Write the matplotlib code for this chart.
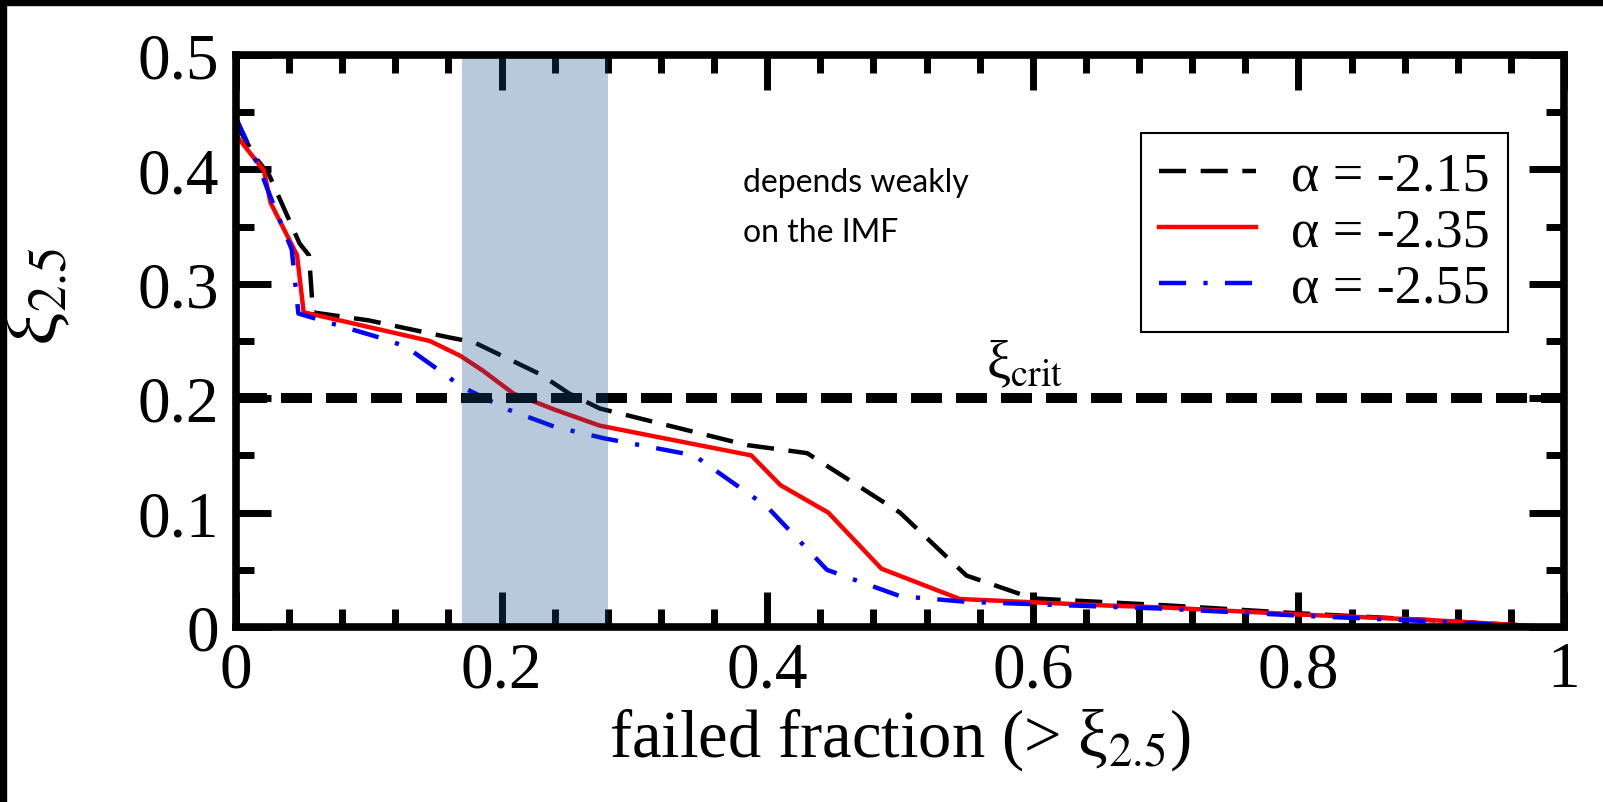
import matplotlib
matplotlib.use('Agg')
import matplotlib.pyplot as plt
from matplotlib.patches import Rectangle
from matplotlib.ticker import MultipleLocator, FixedLocator, FixedFormatter

plt.rcParams['font.family'] = ['Liberation Serif', 'DejaVu Serif']
plt.rcParams['mathtext.fontset'] = 'stix'
plt.rcParams['lines.scale_dashes'] = False

# failed fraction vs xi_2.5 for three IMF slopes
x_215 = [0.0, 0.015, 0.025, 0.048, 0.055, 0.058, 0.10, 0.161, 0.179, 0.229, 0.251,
         0.274, 0.385, 0.43, 0.50, 0.55, 0.60, 0.70, 0.80, 0.90, 0.99]
y_215 = [0.44, 0.41, 0.395, 0.335, 0.325, 0.275, 0.268, 0.253, 0.249, 0.221, 0.204,
         0.191, 0.159, 0.152, 0.100, 0.045, 0.025, 0.019, 0.012, 0.006, 0.0]

x_235 = [0.0, 0.021, 0.026, 0.046, 0.051, 0.063, 0.146, 0.169, 0.186, 0.209, 0.24,
         0.274, 0.388, 0.41, 0.446, 0.486, 0.545, 0.651, 0.70, 0.80, 0.90, 0.99]
y_235 = [0.43, 0.399, 0.371, 0.325, 0.275, 0.272, 0.250, 0.237, 0.224, 0.204, 0.19,
         0.176, 0.150, 0.124, 0.100, 0.051, 0.0245, 0.019, 0.017, 0.011, 0.006, 0.0]

x_255 = [0.0, 0.018, 0.028, 0.042, 0.047, 0.111, 0.128, 0.151, 0.170, 0.205, 0.24,
         0.277, 0.345, 0.40, 0.445, 0.50, 0.55, 0.70, 0.80, 0.90, 0.99]
y_255 = [0.445, 0.40, 0.37, 0.33, 0.274, 0.252, 0.245, 0.226, 0.210, 0.19, 0.175,
         0.165, 0.150, 0.105, 0.050, 0.027, 0.022, 0.016, 0.010, 0.005, 0.0]

xi_crit = 0.2
band = (0.17, 0.28)

x_ticks = [0, 0.2, 0.4, 0.6, 0.8, 1.0]
x_labels = ['0', '0.2', '0.4', '0.6', '0.8', '1']
y_ticks = [0, 0.1, 0.2, 0.3, 0.4, 0.5]
y_labels = ['0', '0.1', '0.2', '0.3', '0.4', '0.5']

fig = plt.figure(figsize=(16.03, 8.03), dpi=100)
ax = fig.add_axes([0.1472, 0.2179, 0.9757 - 0.1472, 0.9303 - 0.2179])

ax.plot(x_215, y_215, color='black', lw=3.2, dashes=(19.5, 10.5), label='α = -2.15')
ax.plot(x_235, y_235, color='red', lw=3.2, label='α = -2.35')
ax.plot(x_255, y_255, color='blue', lw=3.2, dashes=(19.5, 12.5, 3, 12.5), label='α = -2.55')

ax.axhline(xi_crit, color='black', lw=7.2, dashes=(22.3, 10.1))
ax.text(0.594, 0.207, 'ξ$_{\\rm crit}$', fontsize=39, ha='center', va='bottom')

# shaded range drawn over curves and ticks, below the frame
ax.axvspan(band[0], band[1], color=(0.07, 0.30, 0.53), alpha=0.3, lw=0, zorder=2.2)

ax.text(0.382, 0.402, 'depends weakly\non the IMF', family='Lato', fontsize=23,
        ha='left', va='top', linespacing=1.85)

ax.set_xlim(0, 1)
ax.set_ylim(0, 0.5)
ax.xaxis.set_major_locator(FixedLocator(x_ticks))
ax.xaxis.set_major_formatter(FixedFormatter(x_labels))
ax.yaxis.set_major_locator(FixedLocator(y_ticks))
ax.yaxis.set_major_formatter(FixedFormatter(y_labels))
ax.xaxis.set_minor_locator(MultipleLocator(0.04))
ax.yaxis.set_minor_locator(MultipleLocator(0.05))

ax.tick_params(which='both', direction='in', top=True, right=True, width=5, labelsize=47)
ax.tick_params(which='major', length=25)
ax.tick_params(which='minor', length=13)
ax.tick_params(axis='x', pad=10)
ax.tick_params(axis='y', pad=12)

for spine in ax.spines.values():
    spine.set_linewidth(5.5)
    spine.set_zorder(2.5)

ax.set_xlabel('failed fraction (> ξ$_{2.5}$)', fontsize=48, labelpad=4)
ax.set_ylabel('ξ$_{2.5}$', fontsize=54, va='center')
ax.yaxis.set_label_coords(-0.148, 0.58)

leg = ax.legend(loc='upper right', bbox_to_anchor=(0.958, 0.864), borderaxespad=0,
                fontsize=39, fancybox=False, edgecolor='black', framealpha=1,
                handlelength=1.8, handletextpad=0.64, labelspacing=0.1, borderpad=0.34)
leg.get_frame().set_linewidth(1.5)

# dark strips along the top and left edges
fig.patches.append(Rectangle((0, 1 - 6 / 803), 1, 6 / 803, transform=fig.transFigure,
                             color='black', zorder=10))
fig.patches.append(Rectangle((0, 0), 6 / 1603, 1, transform=fig.transFigure,
                             color='black', zorder=10))

fig.savefig('out.png', dpi=100)
